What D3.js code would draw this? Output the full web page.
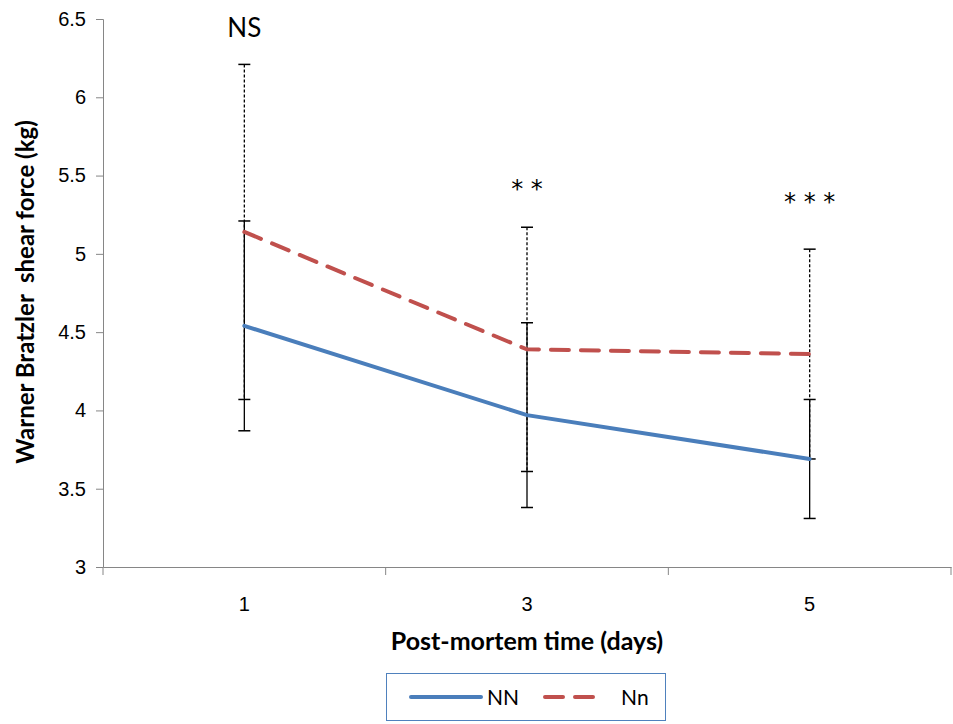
<!DOCTYPE html>
<html>
<head>
<meta charset="utf-8">
<script src="https://cdn.jsdelivr.net/npm/d3@7"></script>
<style>
  body { margin: 0; background: #fff; }
  svg { font-family: Lato, "Open Sans", sans-serif; }
</style>
</head>
<body>
<div id="chart"></div>
<script>
var days = ["1", "3", "5"];
var yTicks = [3, 3.5, 4, 4.5, 5, 5.5, 6, 6.5];
var seriesNames = ["NN", "Nn"];
var meanNN = [4.54, 3.97, 3.69];
var errNN = [0.67, 0.59, 0.38];
var meanNn = [5.14, 4.39, 4.36];
var errNn = [1.07, 0.78, 0.67];
var stars = ["NS", "* *", "* * *"];

function init() {
    var W = 953, H = 724;
    var margin = {top: 19, right: 2, bottom: 157, left: 103},
        w = W - margin.left - margin.right,
        h = H - margin.top - margin.bottom;

    var series = [
        {name: seriesNames[0], mean: meanNN, err: errNN, color: "#4a7ebb", dash: null, barDash: null},
        {name: seriesNames[1], mean: meanNn, err: errNn, color: "#c0504d", dash: "18,12", barDash: "3,2"}
    ];

    var svg = d3.select("#chart")
        .append("svg")
        .attr("width", W)
        .attr("height", H);

    var g = svg.append("g")
        .attr("transform", `translate(${margin.left}, ${margin.top})`);

    var xBand = d3.scaleBand().domain(days).range([0, w]);
    var x = d => xBand(d) + xBand.bandwidth() / 2;
    var y = d3.scaleLinear().domain([3, 6.5]).range([h, 0]);

    // y axis
    var yAxis = g.append("g")
        .call(d3.axisLeft(y).tickValues(yTicks).tickSize(7).tickPadding(10)
            .tickFormat(d => d3.format("")(d)));
    yAxis.selectAll("text").style("font-size", "20px").attr("fill", "#000");

    // x axis
    var xAxis = g.append("g")
        .attr("transform", `translate(0, ${h})`)
        .call(d3.axisBottom(xBand).tickSize(0).tickPadding(30));
    xAxis.selectAll("text").style("font-size", "20px").attr("fill", "#000");
    // ticks at band boundaries
    var bounds = days.map(d => xBand(d)).concat([w]);
    xAxis.selectAll(".bound").data(bounds).enter().append("line")
        .attr("x1", d => d).attr("x2", d => d)
        .attr("y1", 0).attr("y2", 8)
        .attr("stroke", "#868686");

    svg.selectAll(".domain, .tick line").attr("stroke", "#868686");

    // error bars: dashed (Nn) first, solid (NN) on top
    [series[1], series[0]].forEach(function(s) {
        var eb = g.append("g");
        days.forEach(function(d, i) {
            var top = y(s.mean[i] + s.err[i]), bot = y(s.mean[i] - s.err[i]);
            eb.append("line")
                .attr("x1", x(d)).attr("x2", x(d))
                .attr("y1", top).attr("y2", bot)
                .attr("stroke", "#000").attr("stroke-width", 1.3)
                .attr("stroke-dasharray", s.barDash);
            [top, bot].forEach(function(v) {
                eb.append("line")
                    .attr("x1", x(d) - 6).attr("x2", x(d) + 6)
                    .attr("y1", v).attr("y2", v)
                    .attr("stroke", "#000").attr("stroke-width", 1.5);
            });
        });
    });

    var line = d3.line()
        .x((v, i) => x(days[i]))
        .y(v => y(v));

    series.forEach(function(s) {
        g.append("path")
            .datum(s.mean)
            .attr("d", line)
            .attr("fill", "none")
            .attr("stroke", s.color)
            .attr("stroke-width", 4)
            .attr("stroke-linecap", "round")
            .attr("stroke-dasharray", s.dash);
    });

    // significance labels
    g.selectAll(".sig").data(stars).enter().append("text")
        .attr("x", (d, i) => x(days[i]))
        .attr("y", (d, i) => i === 0 ? 18 : (i === 1 ? 178 : 191))
        .attr("text-anchor", "middle")
        .style("font-family", (d, i) => i === 0 ? null : "'DejaVu Sans'")
        .style("font-size", (d, i) => i === 0 ? "26px" : "24px")
        .text(d => d);

    // axis titles
    svg.append("text")
        .attr("transform", "translate(34, 292) rotate(-90)")
        .attr("text-anchor", "middle")
        .style("font-size", "24px")
        .style("font-weight", "bold")
        .style("white-space", "pre")
        .attr("xml:space", "preserve")
        .text("Warner Bratzler  shear force (kg)");

    svg.append("text")
        .attr("x", 527)
        .attr("y", 650)
        .attr("text-anchor", "middle")
        .style("font-size", "25px")
        .style("font-weight", "bold")
        .text("Post-mortem time (days)");

    // legend
    var lg = svg.append("g");
    lg.append("rect")
        .attr("x", 386.5).attr("y", 673.5)
        .attr("width", 279).attr("height", 47)
        .attr("fill", "#fff")
        .attr("stroke", "#4f81bd").attr("stroke-width", 1);
    var lx = [411, 545], tx = [487, 621], lw = [70, 52];
    series.forEach(function(s, i) {
        lg.append("line")
            .attr("x1", lx[i]).attr("x2", lx[i] + lw[i])
            .attr("y1", 697).attr("y2", 697)
            .attr("stroke", s.color).attr("stroke-width", 4)
            .attr("stroke-linecap", "round")
            .attr("stroke-dasharray", s.dash);
        lg.append("text")
            .attr("x", tx[i]).attr("y", 705)
            .style("font-size", "21px")
            .text(s.name);
    });
}

window.onload = init;
</script>
</body>
</html>
